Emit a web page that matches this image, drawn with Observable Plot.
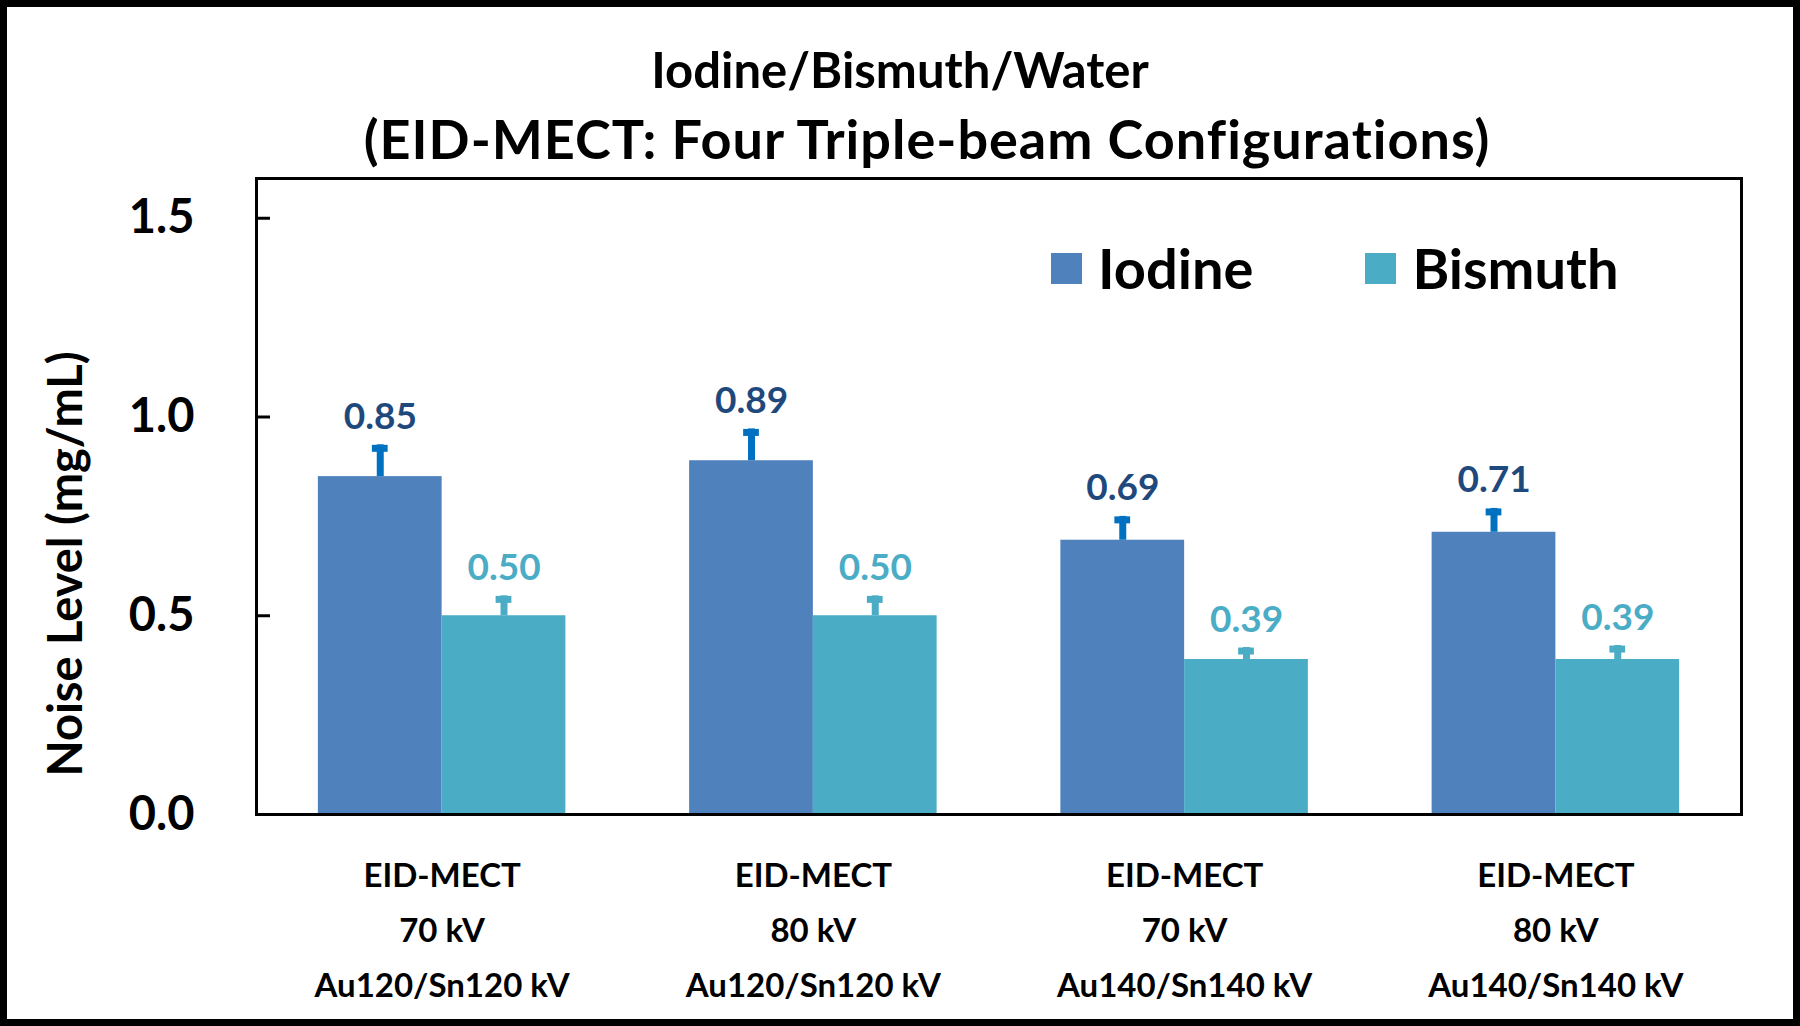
<!DOCTYPE html>
<html><head><meta charset="utf-8">
<script src="https://cdn.jsdelivr.net/npm/d3@7"></script>
<script src="https://cdn.jsdelivr.net/npm/@observablehq/plot@0.6"></script>
<style>
html,body{margin:0;padding:0;background:#fff;}
#wrap{position:relative;width:1800px;height:1026px;overflow:hidden;background:#fff;font-family:Lato,"Open Sans",sans-serif;font-weight:700;color:#000;}
#border{position:absolute;left:0;top:0;width:1800px;height:1026px;box-sizing:border-box;border:7px solid #000;pointer-events:none;}
.title{position:absolute;left:0;width:1800px;text-align:center;line-height:1;white-space:nowrap;box-sizing:border-box;}
#chart{position:absolute;left:0;top:160px;}
#ylabel{position:absolute;left:64px;top:564px;transform:translate(-50%,-50%) rotate(-90deg);white-space:nowrap;font-size:47px;line-height:1;}
#legend{position:absolute;left:1051px;top:240px;display:flex;align-items:center;font-size:56px;line-height:1;}
#legend .sw{width:31px;height:31px;margin-right:16px;}
#legend .item{display:flex;align-items:center;margin-right:112px;}
</style>
</head><body>
<div id="wrap">
  <div class="title" id="t1" style="top:45px;font-size:49px;"></div>
  <div class="title" id="t2" style="top:112px;font-size:54px;letter-spacing:1px;padding-left:54px;"></div>
  <div id="chart"></div>
  <div id="ylabel"></div>
  <div id="legend"></div>
  <div id="border"></div>
</div>
<script>
const titleLines = ["Iodine/Bismuth/Water", "(EID-MECT: Four Triple-beam Configurations)"];
const yLabel = "Noise Level (mg/mL)";
const configurations = ["70 kV Au120/Sn120", "80 kV Au120/Sn120", "70 kV Au140/Sn140", "80 kV Au140/Sn140"];
const tickLabels = ["EID-MECT\n70 kV\nAu120/Sn120 kV", "EID-MECT\n80 kV\nAu120/Sn120 kV", "EID-MECT\n70 kV\nAu140/Sn140 kV", "EID-MECT\n80 kV\nAu140/Sn140 kV"];
const series = ["Iodine", "Bismuth"];
const iodine = [0.85, 0.89, 0.69, 0.71];
const iodineErr = [0.08, 0.08, 0.06, 0.06];
const bismuth = [0.50, 0.50, 0.39, 0.39];
const bismuthErr = [0.05, 0.05, 0.03, 0.035];
const yTicks = [0, 0.5, 1.0, 1.5];
const yDomain = [0, 1.6];
const barColors = ["#4F81BD", "#4BACC6"];
const labelColors = ["#1F497D", "#4BACC6"];
const errColors = ["#0070C0", "#4BACC6"];

document.getElementById("t1").textContent = titleLines[0];
document.getElementById("t2").textContent = titleLines[1];
document.getElementById("ylabel").textContent = yLabel;

const legend = document.getElementById("legend");
series.forEach((s, i) => {
  const item = document.createElement("div");
  item.className = "item";
  const sw = document.createElement("div");
  sw.className = "sw";
  sw.style.background = barColors[i];
  const tx = document.createElement("span");
  tx.textContent = s;
  item.appendChild(sw); item.appendChild(tx);
  legend.appendChild(item);
});

const valuesBySeries = [iodine, bismuth];
const errBySeries = [iodineErr, bismuthErr];
const rows = [];
configurations.forEach((c, i) => {
  series.forEach((s, j) => {
    rows.push({config: c, series: s, value: valuesBySeries[j][i], err: errBySeries[j][i]});
  });
});

const fmt2 = d3.format(".2f");
const perSeriesMarks = series.flatMap((s, j) => {
  const d = rows.filter(r => r.series === s);
  return [
    Plot.ruleX(d, {fx: "config", x: "series", y1: "value", y2: r => r.value + r.err, stroke: errColors[j], strokeWidth: 7}),
    Plot.tickY(d, {fx: "config", x: "series", y: r => r.value + r.err, stroke: errColors[j], strokeWidth: 7, dy: 3.5, insetLeft: 54, insetRight: 54}),
    Plot.text(d, {fx: "config", x: "series", y: r => r.value + r.err, text: r => fmt2(r.value), dy: -16, lineAnchor: "bottom", fill: labelColors[j], fontSize: 37, fontWeight: "bold", fontFamily: "Lato"})
  ];
});

const chart = Plot.plot({
  width: 1800,
  height: 854,
  marginTop: 18,
  marginBottom: 200,
  marginLeft: 256,
  marginRight: 59,
  style: {fontFamily: "Lato", fontWeight: "bold", color: "#000", background: "transparent", overflow: "visible"},
  fx: {domain: configurations, padding: 0, axis: null, label: null, round: false},
  x: {domain: series, paddingInner: 0, paddingOuter: 0.5, axis: null, round: false},
  y: {domain: yDomain, axis: null},
  color: {domain: series, range: barColors},
  marks: [
    Plot.barY(rows, {fx: "config", x: "series", y: "value", fill: "series"}),
    ...perSeriesMarks,
    Plot.frame({anchor: "top", stroke: "#000", strokeWidth: 3}),
    Plot.frame({anchor: "bottom", stroke: "#000", strokeWidth: 3}),
    Plot.frame({anchor: "left", facetAnchor: "left", stroke: "#000", strokeWidth: 3}),
    Plot.frame({anchor: "right", facetAnchor: "right", stroke: "#000", strokeWidth: 3}),
    Plot.axisY({ticks: yTicks, tickFormat: d3.format(".1f"), tickSize: -14, tickPadding: 76, strokeWidth: 3, fontSize: 47, fontWeight: "bold", label: null}),
    Plot.axisFx({anchor: "bottom", tickSize: 0, tickPadding: 34, tickFormat: d => tickLabels[configurations.indexOf(d)], fontSize: 33, fontWeight: "bold", lineHeight: 1.66, label: null})
  ]
});
document.getElementById("chart").appendChild(chart);
</script>
</body></html>
